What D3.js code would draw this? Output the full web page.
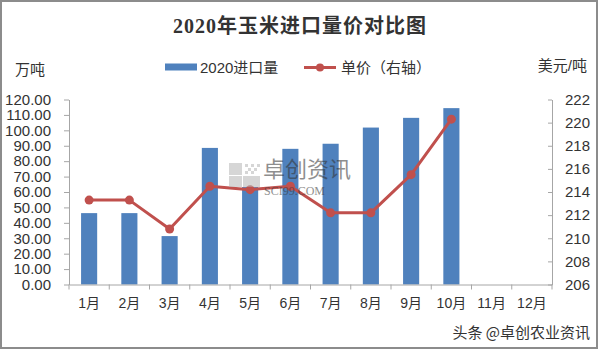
<!DOCTYPE html>
<html>
<head>
<meta charset="utf-8">
<script src="https://cdn.jsdelivr.net/npm/d3@7"></script>
<style>
  body { margin: 0; background: #fff; }
  #dataViz { width: 600px; height: 352px; }
  text { font-family: "Liberation Sans", "Noto Sans CJK SC", sans-serif; fill: #333; }
</style>
</head>
<body>
<div id="dataViz"></div>
<script>
const margin = { top: 99.5, right: 48, bottom: 67.5, left: 69 };

const width = 600;
const height = 352;

// Data
const months = ["1月", "2月", "3月", "4月", "5月", "6月", "7月", "8月", "9月", "10月", "11月", "12月"];
const volume = [46.3, 46.3, 31.4, 88.6, 63.2, 88.0, 91.3, 101.8, 108.1, 114.4];
const price = [213.3, 213.3, 210.8, 214.5, 214.2, 214.5, 212.2, 212.2, 215.5, 220.3];
const leftTicks = [0, 10, 20, 30, 40, 50, 60, 70, 80, 90, 100, 110, 120];
const rightTicks = [206, 208, 210, 212, 214, 216, 218, 220, 222];

const colours = {
  "bar": "#4f81bd",
  "line": "#c0504d",
  "axis": "#a6a6a6",
  "frame": "#8c8c8c"
};

const container = d3.select("#dataViz");
const svg = container.append("svg")
  .attr("width", width)
  .attr("height", height)
  .attr("viewBox", [0, 0, width, height]);

// Scales
const xScale = d3.scaleBand()
  .domain(months)
  .range([margin.left, width - margin.right])
  .padding(0);

const yScale = d3.scaleLinear()
  .domain([0, 120])
  .range([height - margin.bottom, margin.top]);

const yScale2 = d3.scaleLinear()
  .domain([206, 222])
  .range([height - margin.bottom, margin.top]);

const barWidth = xScale.bandwidth() * 0.4;

// Bars
svg.selectAll(".bar")
  .data(volume)
  .enter()
  .append("rect")
  .attr("class", "bar")
  .attr("x", (d, i) => xScale(months[i]) + xScale.bandwidth() / 2 - barWidth / 2)
  .attr("y", d => yScale(d))
  .attr("width", barWidth)
  .attr("height", d => yScale(0) - yScale(d))
  .style("fill", colours.bar);

// Axes
const xAxis = d3.axisBottom(xScale).tickSize(0).tickPadding(14);
const gx = svg.append("g")
  .attr("transform", `translate(0, ${height - margin.bottom})`)
  .call(xAxis);
gx.select(".domain").attr("stroke", colours.axis);
gx.selectAll("text").style("font-size", "14px").attr("fill", "#333");
// category boundary ticks
gx.selectAll(".sep")
  .data(d3.range(months.length + 1))
  .enter()
  .append("line")
  .attr("x1", i => margin.left + i * xScale.step())
  .attr("x2", i => margin.left + i * xScale.step())
  .attr("y1", 0)
  .attr("y2", 5)
  .attr("stroke", colours.axis);

const yAxis = d3.axisLeft(yScale)
  .tickValues(leftTicks)
  .tickFormat(d3.format(".2f"))
  .tickSizeInner(5)
  .tickSizeOuter(0)
  .tickPadding(13);
const gy = svg.append("g")
  .attr("transform", `translate(${margin.left}, 0)`)
  .call(yAxis);
gy.selectAll("path, line").attr("stroke", colours.axis);
gy.selectAll("text").style("font-size", "15px").attr("fill", "#333");

const yAxis2 = d3.axisRight(yScale2)
  .tickValues(rightTicks)
  .tickSizeInner(-4)
  .tickSizeOuter(0)
  .tickPadding(13);
const gy2 = svg.append("g")
  .attr("transform", `translate(${width - margin.right}, 0)`)
  .call(yAxis2);
gy2.selectAll("path, line").attr("stroke", colours.axis);
gy2.selectAll("text").style("font-size", "15px").attr("fill", "#333");

// Price line
const line = d3.line()
  .x((d, i) => xScale(months[i]) + xScale.bandwidth() / 2)
  .y(d => yScale2(d));

svg.append("path")
  .datum(price)
  .attr("fill", "none")
  .attr("stroke", colours.line)
  .attr("stroke-width", 3)
  .attr("stroke-linejoin", "round")
  .attr("d", line);

svg.selectAll(".dot")
  .data(price)
  .enter()
  .append("circle")
  .attr("class", "dot")
  .attr("cx", (d, i) => xScale(months[i]) + xScale.bandwidth() / 2)
  .attr("cy", d => yScale2(d))
  .attr("r", 4.5)
  .attr("fill", colours.line);

// Watermark
const wm = svg.append("g").attr("opacity", 0.55);
wm.append("rect").attr("x", 229).attr("y", 163).attr("width", 13).attr("height", 12).attr("fill", "#b5b5b5");
wm.append("rect").attr("x", 229).attr("y", 176).attr("width", 13).attr("height", 11).attr("fill", "#b5b5b5");
wm.append("rect").attr("x", 243).attr("y", 176).attr("width", 17).attr("height", 11).attr("fill", "#b5b5b5");
[[245, 164], [251, 164], [248, 168], [254, 168], [245, 171], [251, 171], [257, 164]].forEach(p => {
  wm.append("rect").attr("x", p[0]).attr("y", p[1]).attr("width", 3).attr("height", 3).attr("fill", "#b5b5b5");
});
wm.append("text")
  .attr("x", 263).attr("y", 177)
  .style("font-size", "22px")
  .style("font-family", "Noto Sans CJK SC")
  .attr("fill", "#a8a8a8")
  .text("卓创资讯");
wm.append("text")
  .attr("x", 264).attr("y", 195)
  .style("font-size", "12px")
  .style("font-family", "Liberation Serif")
  .attr("fill", "#a8a8a8")
  .text("SCI99.COM");

// Title
svg.append("text")
  .attr("x", width / 2)
  .attr("y", 33)
  .style("text-anchor", "middle")
  .style("font-size", "20px")
  .style("font-weight", "600")
  .style("letter-spacing", "1px")
  .style("font-family", "'Liberation Serif', 'Noto Sans CJK SC', serif")
  .attr("fill", "#111")
  .text("2020年玉米进口量价对比图");

// Legend
svg.append("rect")
  .attr("x", 165).attr("y", 63.5)
  .attr("width", 32).attr("height", 7)
  .attr("fill", colours.bar);
svg.append("text")
  .attr("x", 200).attr("y", 72.5)
  .style("font-size", "15px")
  .text("2020进口量");
svg.append("line")
  .attr("x1", 304).attr("x2", 336)
  .attr("y1", 67.5).attr("y2", 67.5)
  .attr("stroke", colours.line)
  .attr("stroke-width", 3);
svg.append("circle")
  .attr("cx", 320).attr("cy", 67.5).attr("r", 4)
  .attr("fill", colours.line);
svg.append("text")
  .attr("x", 341).attr("y", 72.5)
  .style("font-size", "15px")
  .text("单价（右轴）");

// Axis unit labels
svg.append("text")
  .attr("x", 15).attr("y", 74.5)
  .style("font-size", "15px")
  .text("万吨");
svg.append("text")
  .attr("x", 587).attr("y", 71)
  .style("text-anchor", "end")
  .style("font-size", "15px")
  .text("美元/吨");

// Source tag
svg.append("text")
  .attr("x", 590).attr("y", 338)
  .style("text-anchor", "end")
  .style("font-size", "15px")
  .style("font-family", "Noto Sans CJK SC")
  .attr("fill", "#555")
  .text("头条 @卓创农业资讯");

// Frame
svg.append("rect")
  .attr("x", 1).attr("y", 1)
  .attr("width", 596).attr("height", 347)
  .attr("fill", "none")
  .attr("stroke", colours.frame)
  .attr("stroke-width", 2);
</script>
</body>
</html>
